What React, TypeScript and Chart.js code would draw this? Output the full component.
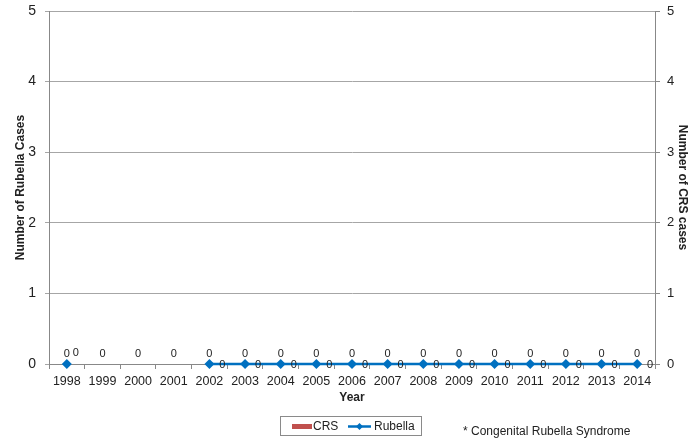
import React, { useEffect, useRef } from "react";
import { Chart, registerables } from "chart.js";

Chart.register(...registerables);

const years = ["1998", "1999", "2000", "2001", "2002", "2003", "2004", "2005", "2006", "2007", "2008", "2009", "2010", "2011", "2012", "2013", "2014"];
const crsCases = [0, 0, 0, 0, 0, 0, 0, 0, 0, 0, 0, 0, 0, 0, 0, 0, 0];
const rubellaCases = [0, null, null, null, 0, 0, 0, 0, 0, 0, 0, 0, 0, 0, 0, 0, 0];
const yTicks = [0, 1, 2, 3, 4, 5];
const footnote = "* Congenital Rubella Syndrome";

const FONT = "'Liberation Sans', Arial, sans-serif";
const BLUE = "#0070C0";
const RED = "#C0504D";

const labelPlugin = {
  id: "valueLabels",
  afterDatasetsDraw(chart: any) {
    const ctx = chart.ctx;
    const x = chart.scales.x;
    const y = chart.scales.y;
    const y1 = chart.scales.y1;
    ctx.save();
    ctx.font = `11px ${FONT}`;
    ctx.fillStyle = "#222";
    ctx.textAlign = "center";
    ctx.textBaseline = "middle";
    const crs = chart.data.datasets[0].data;
    const rub = chart.data.datasets[1].data;
    rub.forEach((v: any, i: number) => {
      if (v == null) return;
      ctx.fillText(String(v), x.getPixelForValue(i), y.getPixelForValue(v) - 10);
    });
    crs.forEach((v: any, i: number) => {
      if (v == null) return;
      const px = x.getPixelForValue(i);
      const py = y1.getPixelForValue(v);
      if (rub[i] == null) {
        ctx.fillText(String(v), px, py - 10);
      } else if (i === 0) {
        ctx.fillText(String(v), px + 9, py - 11);
      } else {
        ctx.fillText(String(v), px + 13, py + 1);
      }
    });
    ctx.restore();
  },
};

const legendPlugin = {
  id: "boxLegend",
  afterDraw(chart: any) {
    const ctx = chart.ctx;
    const ds = chart.data.datasets;
    ctx.save();
    ctx.strokeStyle = "#8a8a8a";
    ctx.lineWidth = 1;
    ctx.strokeRect(280.5, 416.5, 141, 19);
    ctx.font = `12px ${FONT}`;
    ctx.textBaseline = "middle";
    ctx.textAlign = "left";
    // CRS
    ctx.fillStyle = ds[0].backgroundColor;
    ctx.fillRect(292, 424, 20, 5);
    ctx.fillStyle = "#222";
    ctx.fillText(ds[0].label, 313, 427);
    // Rubella
    ctx.strokeStyle = ds[1].borderColor;
    ctx.lineWidth = 2.5;
    ctx.beginPath();
    ctx.moveTo(348, 426.5);
    ctx.lineTo(371, 426.5);
    ctx.stroke();
    ctx.fillStyle = ds[1].borderColor;
    ctx.beginPath();
    ctx.moveTo(359.5, 423);
    ctx.lineTo(363, 426.5);
    ctx.lineTo(359.5, 430);
    ctx.lineTo(356, 426.5);
    ctx.closePath();
    ctx.fill();
    ctx.fillStyle = "#222";
    ctx.fillText(ds[1].label, 374, 427);
    // footnote
    ctx.fillText(footnote, 463, 432);
    ctx.restore();
  },
};

function fixVertical(width: number) {
  return (scale: any) => {
    scale.width = width;
    scale.paddingTop = 0;
    scale.paddingBottom = 0;
  };
}

export default function App() {
  const ref = useRef<HTMLCanvasElement | null>(null);
  useEffect(() => {
    if (!ref.current) return;
    const chart = new Chart(ref.current, {
      type: "bar",
      data: {
        labels: years,
        datasets: [
          {
            type: "bar",
            label: "CRS",
            data: crsCases,
            backgroundColor: RED,
            borderColor: RED,
            yAxisID: "y1",
            order: 2,
          },
          {
            type: "line",
            label: "Rubella",
            data: rubellaCases,
            borderColor: BLUE,
            backgroundColor: BLUE,
            borderWidth: 2.5,
            pointStyle: "rectRot",
            pointRadius: 5,
            pointBorderWidth: 0,
            pointBackgroundColor: BLUE,
            spanGaps: false,
            clip: false,
            yAxisID: "y",
            order: 1,
          },
        ] as any,
      },
      options: {
        responsive: false,
        animation: false,
        devicePixelRatio: 1,
        layout: { padding: { top: 11, left: 0, right: 0, bottom: 0 } },
        plugins: {
          legend: { display: false },
          tooltip: { enabled: false },
        },
        scales: {
          x: {
            offset: true,
            grid: {
              display: true,
              offset: true,
              drawOnChartArea: false,
              drawTicks: true,
              tickLength: 5,
              color: "#888",
            },
            border: { color: "#888" },
            ticks: {
              color: "#222",
              font: { family: FONT, size: 12.5 },
              padding: 5,
              maxRotation: 0,
              autoSkip: false,
            },
            title: {
              display: true,
              text: "Year",
              color: "#222",
              font: { family: FONT, size: 12, weight: "bold" },
              padding: { top: 0, bottom: 35 },
            },
            afterFit(scale: any) {
              scale.height = 76;
              scale.paddingLeft = 0;
              scale.paddingRight = 0;
            },
          },
          y: {
            position: "left",
            min: 0,
            max: 5,
            grid: { color: "#A6A6A6", tickLength: 4 },
            border: { color: "#888" },
            ticks: {
              stepSize: 1,
              color: "#222",
              padding: 9,
              font: { family: FONT, size: 14 },
              callback: (v: any) => (yTicks.includes(Number(v)) ? String(v) : ""),
            },
            title: {
              display: true,
              text: "Number of Rubella Cases",
              color: "#222",
              font: { family: FONT, size: 12, weight: "bold" },
              padding: { top: 13, bottom: 0 },
            },
            afterFit: fixVertical(49),
          },
          y1: {
            position: "right",
            min: 0,
            max: 5,
            grid: { drawOnChartArea: false, color: "#888", tickLength: 5 },
            border: { color: "#888" },
            ticks: {
              stepSize: 1,
              color: "#222",
              padding: 7,
              font: { family: FONT, size: 13 },
              callback: (v: any) => (yTicks.includes(Number(v)) ? String(v) : ""),
            },
            title: {
              display: true,
              text: "Number of CRS cases",
              color: "#222",
              font: { family: FONT, size: 12, weight: "bold" },
              padding: { top: 9, bottom: 0 },
            },
            afterFit: fixVertical(44),
          },
        },
      } as any,
      plugins: [labelPlugin, legendPlugin],
    });
    return () => chart.destroy();
  }, []);
  return (
    <div style={{ position: "absolute", left: 0, top: 0, width: 699, height: 440, background: "#fff" }}>
      <canvas ref={ref} width={699} height={440} style={{ display: "block", width: 699, height: 440 }} />
    </div>
  );
}
